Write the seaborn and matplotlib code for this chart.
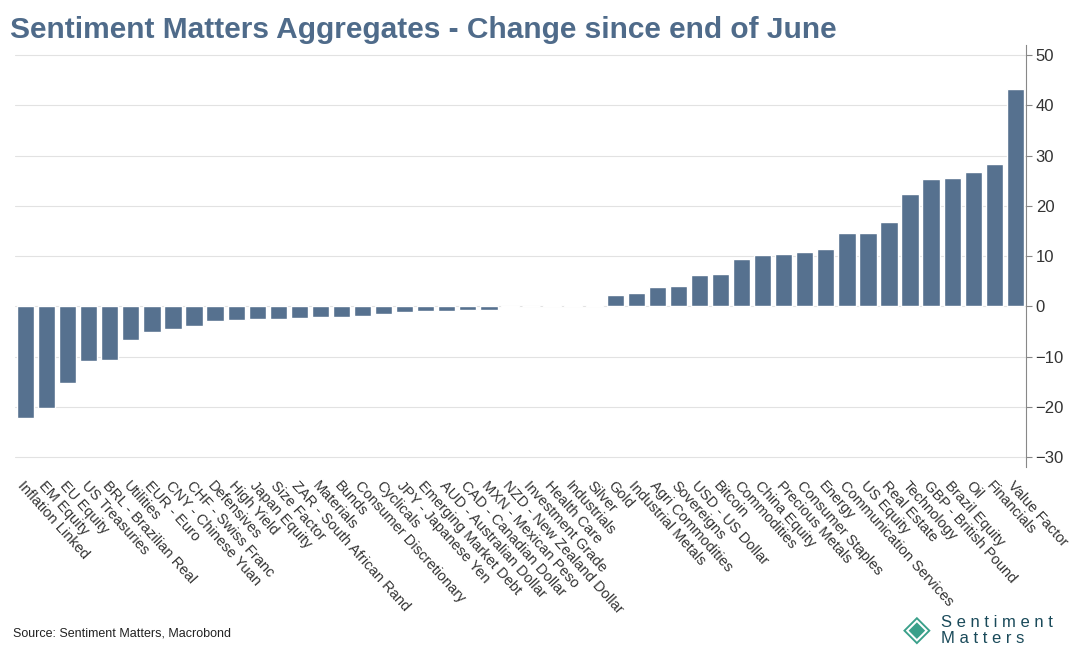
import matplotlib
matplotlib.use("Agg")
import matplotlib.pyplot as plt
import seaborn as sns
import pandas as pd

categories = ["Inflation Linked","EM Equity","EU Equity","US Treasuries","BRL - Brazilian Real","Utilities",
"EUR - Euro","CNY - Chinese Yuan","CHF - Swiss Franc","Defensives","High Yield","Japan Equity","Size Factor",
"ZAR - South African Rand","Materials","Bunds","Consumer Discretionary","Cyclicals","JPY - Japanese Yen",
"Emerging Market Debt","AUD - Australian Dollar","CAD - Canadian Dollar","MXN - Mexican Peso",
"NZD - New Zealand Dollar","Investment Grade","Health Care","Industrials","Silver","Gold","Industrial Metals",
"Agri Commodities","Sovereigns","USD - US Dollar","Bitcoin","Commodities","China Equity","Precious Metals",
"Consumer Staples","Energy","Communication Services","US Equity","Real Estate","Technology",
"GBP - British Pound","Brazil Equity","Oil","Financials","Value Factor"]
values = [-22.2,-20.3,-15.2,-10.8,-10.7,-6.6,-5.1,-4.5,-4.0,-2.9,-2.8,-2.6,-2.5,-2.3,-2.2,-2.1,-2.0,-1.6,-1.2,
-1.0,-0.9,-0.8,-0.7,-0.1,0.1,0.2,0.2,0.3,2.3,2.7,3.9,4.0,6.3,6.5,9.4,10.2,10.4,10.9,11.4,14.6,14.6,16.8,
22.3,25.3,25.5,26.7,28.4,43.3]
yticks = list(range(-30, 51, 10))

df = pd.DataFrame({"cat": categories, "val": values})
sns.set_style("white")
plt.rcParams["font.family"] = ["Liberation Sans", "DejaVu Sans"]

fig = plt.figure(figsize=(10.72, 6.6), dpi=100)
ax = fig.add_axes([0.014, 0.292, 0.943, 0.64])
sns.barplot(data=df, x="cat", y="val", color="#56718f", saturation=1, width=0.82, ax=ax)
ax.set_xlim(-0.5, len(categories) - 0.5)
ax.set_ylim(-32, 52)
ax.set_yticks(yticks)
ax.yaxis.tick_right()
ax.grid(axis="y", color="#e2e2e2", lw=0.8)
ax.set_axisbelow(True)
for s in ["top", "left", "bottom"]:
    ax.spines[s].set_visible(False)
ax.spines["right"].set_color("#888888")
ax.tick_params(axis="y", length=4, color="#888888", labelsize=12, labelcolor="#333333", pad=3)
ax.set_xlabel(""); ax.set_ylabel("")
ax.set_xticks(range(len(categories)))
ax.set_xticklabels(categories, rotation=-48, ha="left", rotation_mode="anchor", fontsize=10.5, color="#333333")
ax.tick_params(axis="x", length=0, pad=8)

fig.text(0.009, 0.955, "Sentiment Matters Aggregates - Change since end of June", fontsize=21.5,
         fontweight="bold", color="#4f6b8a", va="center")
fig.text(0.012, 0.04, "Source: Sentiment Matters, Macrobond", fontsize=9, color="#222222", va="center")
fig.text(0.878, 0.045, "S e n t i m e n t\nM a t t e r s", fontsize=12, color="#1a4a5a", va="center", ha="left",
         linespacing=1.05)
fig.text(0.855, 0.045, "◈", fontsize=26, color="#3aa08a", va="center", ha="center")
fig.savefig("out.png", dpi=100)
